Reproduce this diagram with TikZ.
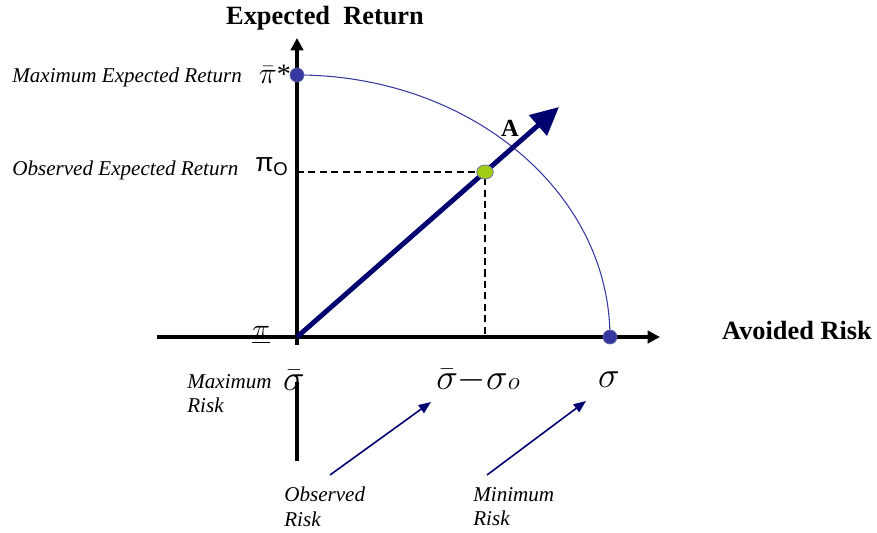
\documentclass[tikz,border=0pt]{standalone}
\usepackage{fontspec}
\setmainfont{Liberation Serif}
\setsansfont{Liberation Sans}
\usetikzlibrary{arrows.meta,shapes.geometric}

\definecolor{navy}{RGB}{0,0,110}
\definecolor{dotblue}{RGB}{55,55,160}
\definecolor{dotgreen}{RGB}{160,205,20}

\tikzset{
  lbl/.style={font=\fontsize{12}{14}\selectfont\itshape,align=left,inner sep=0pt},
  ttl/.style={font=\fontsize{15}{17}\selectfont\bfseries,inner sep=0pt},
  sym/.style={font=\fontsize{16}{18}\selectfont,inner sep=0pt},
  bigsym/.style={font=\fontsize{21}{23}\selectfont,inner sep=0pt},
  dot/.style={circle,inner sep=0pt,minimum size=8pt,draw=navy!60,fill=#1},
  axis/.style={line width=2.3pt,-{Triangle[length=7pt,width=7pt]}},
  pointer/.style={navy,line width=0.9pt,-{Triangle[length=7pt,width=5.5pt]}}
}

\begin{document}
\begin{tikzpicture}[x=0.02cm,y=-0.02cm]
\useasboundingbox (0,0) rectangle (877,533);

% axes
\coordinate (O) at (297,337);
\coordinate (ytop) at (297,38);
\coordinate (xleft) at (157,337);
\coordinate (xend) at (660,337);
\coordinate (ylow) at (297,382);
\coordinate (ybot) at (297,461);
\draw[axis] (xleft) -- (xend);
\draw[axis] (O) -- (ytop);
\draw[line width=2.3pt] (ylow) -- (ybot);
\draw[line width=2.3pt] (297,345) -- (O);

% frontier
\coordinate (pmax) at (297,75);
\coordinate (smin) at (610,337);
\draw[dotblue,line width=0.6pt] (pmax) arc[start angle=90,end angle=0,x radius=6.26cm,y radius=5.24cm];

% observed point
\coordinate (obs) at (485,172);
\coordinate (obsy) at (297,172);
\coordinate (obsx) at (485,337);
\draw[line width=0.8pt,dash pattern=on 4pt off 2.5pt] (obsy) -- (obs) -- (obsx);

% ray A
\coordinate (tipA) at (559,107);
\draw[navy,line width=2.8pt,-{Triangle[length=16pt,width=15pt]}] (O) -- (tipA);

\node[dot=dotblue] (dmax) at (pmax) {};
\node[dot=dotblue] (dmin) at (smin) {};
\node[dot=dotgreen,ellipse,minimum width=9.5pt,minimum height=8pt] (dobs) at (obs) {};

% titles
\node[ttl] (tret) at (325,18) {Expected\ \ Return};
\node[ttl] (trisk) at (797,330) {Avoided Risk};
\node[font=\fontsize{14}{16}\selectfont\bfseries] (lA) at (510,128) {A};

% left labels
\node[lbl,anchor=west] (lmax) at (12,77) {Maximum Expected Return};
\node[lbl,anchor=west] (lobs) at (12,170) {Observed Expected Return};
\node[sym] (spimax) at (275,74) {$\bar{\pi}$*};
\node[sym,font=\fontsize{15}{17}\selectfont\sffamily] (spio) at (272,167) {π\textsubscript{O}};
\node[sym] (spimin) at (261,335) {$\underline{\pi}$};

% bottom labels
\node[bigsym] (ssbar) at (294,380) {$\bar{\sigma}$};
\node[bigsym] (sdiff) at (478,380) {$\bar{\sigma}{-}\sigma{\scriptstyle o}$};
\node[bigsym] (ssig) at (609,380) {$\sigma$};
\node[lbl,anchor=north west] (lmaxr) at (187,374) {Maximum\\Risk};
\node[lbl,anchor=north west] (lobsr) at (284,487) {Observed\\Risk};
\node[lbl,anchor=north west] (lminr) at (473,487) {Minimum\\Risk};

% pointers
\coordinate (pobs) at (330,475);
\coordinate (pobsend) at (431,402);
\coordinate (pmin) at (487,475);
\coordinate (pminend) at (586,401);
\draw[pointer] (pobs) -- (pobsend);
\draw[pointer] (pmin) -- (pminend);
\end{tikzpicture}
\end{document}
